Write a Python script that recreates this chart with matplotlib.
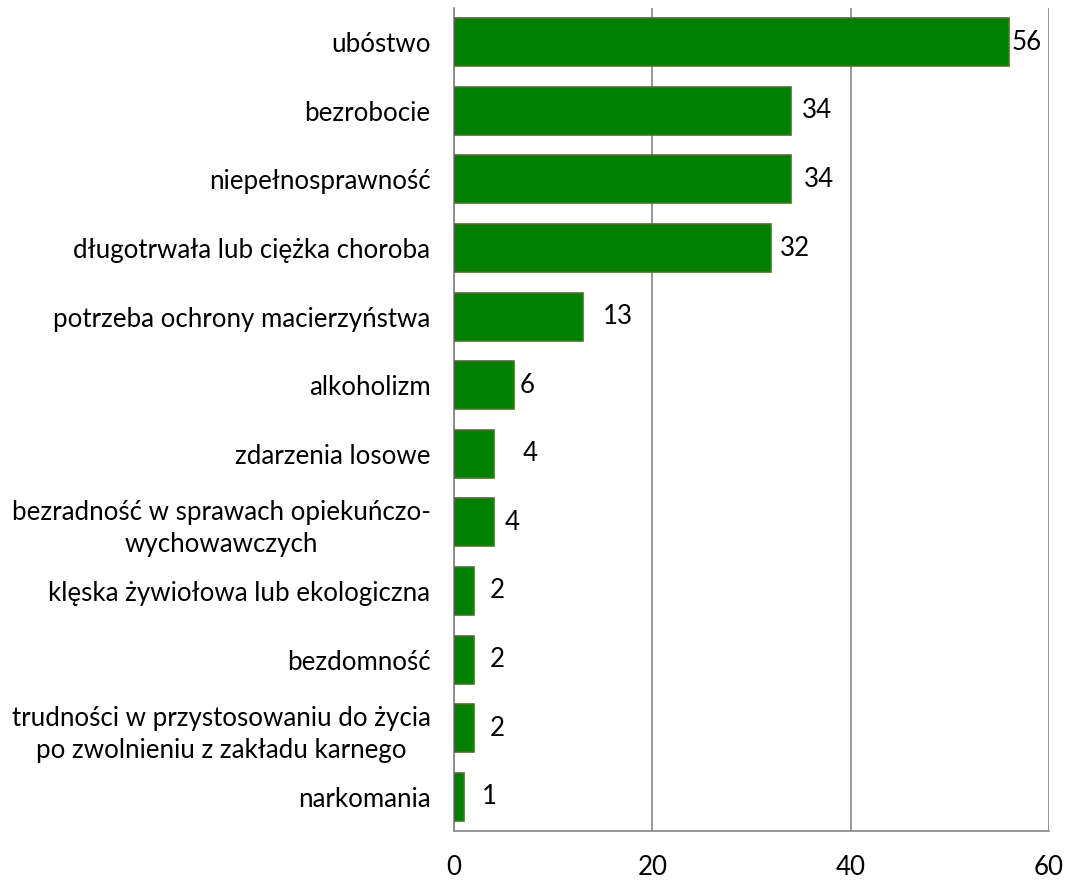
import matplotlib
matplotlib.use("Agg")
import matplotlib.pyplot as plt

categories = [
    "ubóstwo",
    "bezrobocie",
    "niepełnosprawność",
    "długotrwała lub ciężka choroba",
    "potrzeba ochrony macierzyństwa",
    "alkoholizm",
    "zdarzenia losowe",
    "bezradność w sprawach opiekuńczo-\nwychowawczych",
    "klęska żywiołowa lub ekologiczna",
    "bezdomność",
    "trudności w przystosowaniu do życia\npo zwolnieniu z zakładu karnego",
    "narkomania",
]
values = [56, 34, 34, 32, 13, 6, 4, 4, 2, 2, 2, 1]
label_pad_px = [2, 11, 13, 9, 20, 6, 29, 11, 16, 16, 16, 18]
xticks = [0, 20, 40, 60]

plt.rcParams['font.family'] = ['Lato', 'DejaVu Sans']
FS = 18.6

fig = plt.figure(figsize=(10.72, 8.8), dpi=100)
ax = fig.add_axes([454/1072, 1 - 831/880, (1049-454)/1072, (831-8)/880])

ypos = list(range(len(categories)))
ax.barh(ypos, values, height=0.7, color="#008000", edgecolor="#4f6f2f", linewidth=1.2, zorder=3)
ax.set_ylim(len(categories) - 0.5, -0.5)
ax.set_xlim(0, 60)
ax.set_yticks(ypos)
ax.set_yticklabels(categories, fontsize=FS, ha='right', multialignment='center', linespacing=1.35)
ax.set_xticks(xticks)
ax.set_xticklabels([str(t) for t in xticks], fontsize=FS)
ax.tick_params(axis='y', length=0, pad=17)
ax.tick_params(axis='x', length=0, pad=17)

ax.grid(axis='x', color="#868686", linewidth=1.2, zorder=0)
for s in ['top', 'right']:
    ax.spines[s].set_visible(False)
for s in ['left', 'bottom']:
    ax.spines[s].set_color("#868686")
    ax.spines[s].set_linewidth(1.2)

for y, v, p in zip(ypos, values, label_pad_px):
    ax.annotate(str(v), xy=(v, y), xytext=(p * 0.72, 0), textcoords='offset points',
                ha='left', va='center', fontsize=FS, zorder=4)

fig.savefig("out.png", dpi=100)
